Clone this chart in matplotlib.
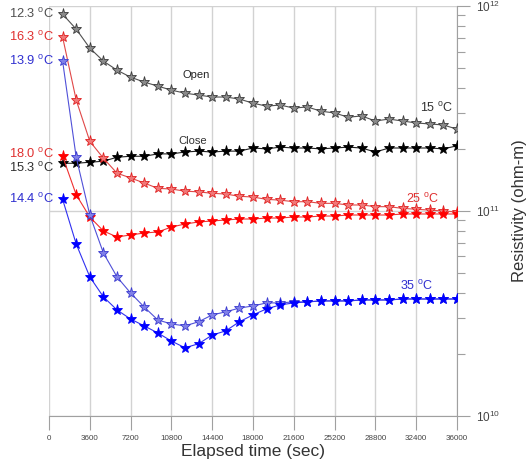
import matplotlib
matplotlib.use("Agg")
import matplotlib.pyplot as plt
import numpy as np
from matplotlib.ticker import LogLocator, FixedLocator, NullFormatter

plt.rcParams['font.family'] = ['Liberation Sans', 'DejaVu Sans']
plt.rcParams['mathtext.fontset'] = 'custom'
plt.rcParams['mathtext.rm'] = 'Liberation Sans'
plt.rcParams['mathtext.it'] = 'Liberation Sans:italic'

# Elapsed time (sec)
time_s = [1200 * k for k in range(1, 31)]

# Resistivity in units of 1e11 ohm-m
open_15 = [9.14, 7.72, 6.24, 5.39, 4.87, 4.50, 4.26, 4.07, 3.89, 3.76,
           3.68, 3.60, 3.60, 3.52, 3.36, 3.25, 3.29, 3.18, 3.22, 3.07,
           3.01, 2.87, 2.91, 2.75, 2.81, 2.75, 2.69, 2.66, 2.63, 2.51]
close_15 = [1.71, 1.71, 1.73, 1.75, 1.83, 1.85, 1.85, 1.90, 1.90, 1.94,
            1.96, 1.94, 1.96, 1.96, 2.03, 2.01, 2.05, 2.03, 2.03, 2.01,
            2.03, 2.05, 2.03, 1.94, 2.03, 2.03, 2.03, 2.03, 2.01, 2.08]
open_25 = [7.06, 3.48, 2.19, 1.81, 1.53, 1.45, 1.37, 1.29, 1.28, 1.25,
           1.24, 1.22, 1.21, 1.18, 1.17, 1.14, 1.13, 1.11, 1.11, 1.09,
           1.09, 1.07, 1.07, 1.05, 1.05, 1.03, 1.02, 1.01, 1.00, 0.989]
close_25 = [1.85, 1.20, 0.935, 0.799, 0.747, 0.764, 0.781, 0.790, 0.835, 0.864,
            0.884, 0.894, 0.904, 0.914, 0.914, 0.924, 0.924, 0.935, 0.935, 0.945,
            0.945, 0.956, 0.956, 0.956, 0.956, 0.967, 0.967, 0.967, 0.967, 0.967]
open_35 = [5.39, 1.83, 0.956, 0.624, 0.477, 0.398, 0.340, 0.294, 0.281, 0.275,
           0.288, 0.311, 0.322, 0.336, 0.344, 0.356, 0.356, 0.360, 0.360, 0.364,
           0.364, 0.364, 0.368, 0.368, 0.368, 0.372, 0.372, 0.372, 0.372, 0.372]
close_35 = [1.14, 0.690, 0.477, 0.381, 0.329, 0.297, 0.275, 0.254, 0.232, 0.215,
            0.225, 0.248, 0.260, 0.288, 0.311, 0.333, 0.348, 0.356, 0.360, 0.364,
            0.364, 0.364, 0.368, 0.368, 0.368, 0.372, 0.372, 0.372, 0.372, 0.372]

xticks = [0, 3600, 7200, 10800, 14400, 18000, 21600, 25200, 28800, 32400, 36000]

start_labels = ["12.3", "16.3", "13.9", "18.0", "15.3", "14.4"]

scale = 1e11

fig = plt.figure(figsize=(5.27, 4.71), dpi=100)
ax = fig.add_axes([0.093, 0.117, 0.774, 0.870])

ax.set_yscale('log')
ax.set_ylim(1e10, 1e12)
ax.set_xlim(0, 36000)

series = [
    (open_15, '#8a8a8a', '#3c3c3c', '#505050'),
    (close_15, '#000000', '#000000', '#202020'),
    (open_25, '#f07878', '#e02020', '#e04848'),
    (close_25, '#ff0000', '#ff0000', '#f03030'),
    (open_35, '#8080e8', '#3a3ad0', '#5050d8'),
    (close_35, '#0000ff', '#0000ff', '#3030f0'),
]
for vals, fc, ec, lc in series:
    ax.plot(time_s, np.array(vals) * scale, color=lc, lw=0.8, marker='*',
            ms=8, mfc=fc, mec=ec, mew=0.6, zorder=3)

# grid
ax.xaxis.set_major_locator(FixedLocator(xticks))
ax.set_xticklabels([str(v) for v in xticks])
ax.grid(True, axis='x', color='#d2d2d2', lw=1.0)
for yv in [1e10, 1e11, 1e12]:
    ax.axhline(yv, color='#d2d2d2', lw=1.0, zorder=0)

for s in ['left', 'top']:
    ax.spines[s].set_visible(False)
ax.spines['bottom'].set_color('#a0a0a0')
ax.spines['right'].set_color('#a0a0a0')
ax.spines['bottom'].set_linewidth(0.8)
ax.spines['right'].set_linewidth(0.8)

ax.tick_params(axis='x', direction='out', length=10, width=0.8, color='#a0a0a0',
               labelsize=5.8, labelcolor='#444444', pad=4)
ax.yaxis.tick_right()
ax.yaxis.set_label_position('right')
ax.yaxis.set_major_locator(LogLocator(base=10, numticks=5))
ax.yaxis.set_minor_locator(LogLocator(base=10, subs=np.arange(2, 10), numticks=20))
ax.yaxis.set_minor_formatter(NullFormatter())
ax.tick_params(axis='y', which='major', direction='out', length=9, width=0.8,
               color='#a0a0a0', labelsize=8.5, labelcolor='#444444', pad=5)
ax.tick_params(axis='y', which='minor', direction='out', length=6, width=0.8,
               color='#a0a0a0')

ax.set_xlabel('Elapsed time (sec)', fontsize=12.5, color='#333333', labelpad=1)
ax.set_ylabel('Resistivity (ohm-m)', fontsize=12, color='#333333', labelpad=8)

# start temperature labels
starts = [(open_15, '#505050', 0), (open_25, '#e03030', 0), (open_35, '#3030d0', 0),
          (close_25, '#e03030', 2), (close_15, '#303030', -3), (close_35, '#3030d0', 0)]
for lab, (vals, col, dy) in zip(start_labels, starts):
    ax.annotate(lab + r' $^\mathrm{o}$C', xy=(time_s[0], vals[0] * scale),
                xytext=(-6, dy), textcoords='offset points', ha='right', va='center',
                fontsize=9.3, color=col)

# curve labels
ax.text(13000, 4.6e11, 'Open', fontsize=8, color='#222222', ha='center', va='center')
ax.text(12700, 2.2e11, 'Close', fontsize=8, color='#333333', ha='center', va='center')
ax.text(34200, 3.2e11, r'15 $^\mathrm{o}$C', fontsize=9, color='#333333', ha='center', va='center')
ax.text(33000, 1.15e11, r'25 $^\mathrm{o}$C', fontsize=9, color='#e03030', ha='center', va='center')
ax.text(32400, 0.43e11, r'35 $^\mathrm{o}$C', fontsize=9, color='#3030d0', ha='center', va='center')

fig.savefig('out.png', dpi=100)
